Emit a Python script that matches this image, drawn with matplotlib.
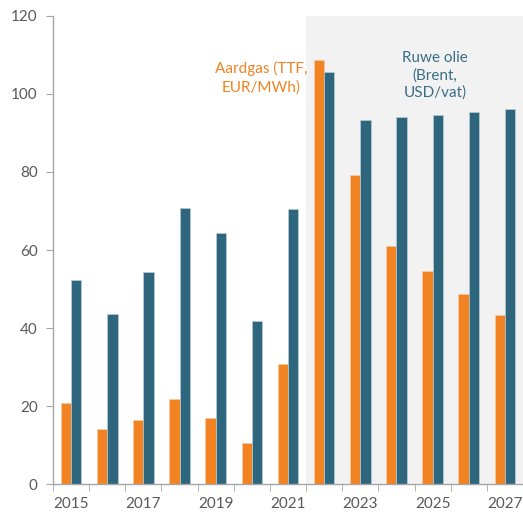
import matplotlib
matplotlib.use("Agg")
import matplotlib.pyplot as plt
import numpy as np

years = [2015, 2016, 2017, 2018, 2019, 2020, 2021, 2022, 2023, 2024, 2025, 2026, 2027]
aardgas = [20.8, 14.2, 16.4, 21.8, 16.9, 10.4, 30.8, 108.7, 79.2, 61.0, 54.6, 48.7, 43.3]
ruwe_olie = [52.3, 43.6, 54.3, 70.8, 64.3, 41.8, 70.6, 105.6, 93.3, 94.1, 94.7, 95.4, 96.1]
yticks = [0, 20, 40, 60, 80, 100, 120]

orange = "#F28322"
teal = "#2E667E"
grey_txt = "#595959"
grey_axis = "#A6A6A6"

plt.rcParams["font.family"] = ["Lato", "DejaVu Sans"]

fig = plt.figure(figsize=(5.23, 5.16), dpi=100)
ax = fig.add_axes([0.1013, 0.062, 0.8987, 0.907])

x = np.arange(len(years))
w = 0.285

# prognose-periode grijs
ax.axvspan(6.5, 12.5, color="#F2F2F2", zorder=0, lw=0)

ax.bar(x - w / 2, aardgas, w, color=orange, edgecolor="#F8C9A0", lw=0.5, zorder=2)
ax.bar(x + w / 2, ruwe_olie, w, color=teal, edgecolor="#B9CDD6", lw=0.5, zorder=2)

ax.set_xlim(-0.5, 12.5)
ax.set_ylim(0, 120)

ax.set_yticks(yticks)
ax.tick_params(axis="y", length=5, color=grey_axis, labelcolor=grey_txt,
               labelsize=11, pad=6)

ax.set_xticks(x[::2])
ax.set_xticklabels([str(y) for y in years[::2]])
ax.set_xticks(np.arange(-0.5, 12.5, 1), minor=True)
ax.tick_params(axis="x", which="major", length=0, labelcolor=grey_txt,
               labelsize=11, pad=9)
ax.tick_params(axis="x", which="minor", length=5, color=grey_axis)

for side in ["top", "right"]:
    ax.spines[side].set_visible(False)
for side in ["left", "bottom"]:
    ax.spines[side].set_color(grey_axis)
    ax.spines[side].set_linewidth(1.0)

ax.text(5.25, 104.2, "Aardgas (TTF,\nEUR/MWh)", color=orange, fontsize=11,
        ha="center", va="center", linespacing=1.35)
ax.text(10.07, 104.8, "Ruwe olie\n(Brent,\nUSD/vat)", color="#3A6E85",
        fontsize=11, ha="center", va="center", linespacing=1.3)

fig.savefig("out.png", dpi=100)
